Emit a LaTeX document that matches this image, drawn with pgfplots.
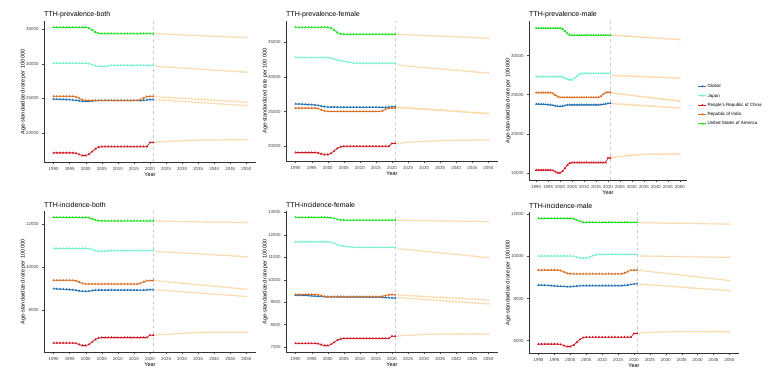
\documentclass[border=0pt]{standalone}
\usepackage{fontspec}
\setmainfont{Liberation Sans}
\usepackage{pgfplots}
\usepackage{pgfplotstable}
\pgfplotsset{compat=1.18}
\definecolor{cG}{RGB}{33,113,181}
\definecolor{cJ}{RGB}{120,240,210}
\definecolor{cC}{RGB}{210,25,35}
\definecolor{cI}{RGB}{220,110,35}
\definecolor{cU}{RGB}{30,225,30}
\definecolor{cP}{RGB}{252,212,160}

% prevalence both
\pgfplotstableread{
yr G J C I U
1990 24900 30100 17100 25300 35300
1991 24880 30100 17100 25300 35300
1992 24860 30100 17100 25300 35300
1993 24840 30100 17100 25300 35300
1994 24820 30100 17100 25300 35300
1995 24800 30100 17100 25300 35300
1996 24770 30100 17100 25300 35300
1997 24720 30100 17040 25210 35300
1998 24650 30100 16860 25000 35300
1999 24580 30100 16700 24790 35300
2000 24550 30100 16700 24700 35300
2001 24570 30050 16895 24700 35210
2002 24630 29900 17285 24700 34940
2003 24680 29750 17675 24700 34625
2004 24700 29650 17935 24700 34445
2005 24700 29620 18000 24700 34400
2006 24700 29650 18000 24700 34400
2007 24700 29720 18000 24700 34400
2008 24700 29780 18000 24700 34400
2009 24700 29800 18000 24700 34400
2010 24700 29800 18000 24700 34400
2011 24700 29800 18000 24700 34400
2012 24700 29800 18000 24700 34400
2013 24700 29800 18000 24700 34400
2014 24700 29800 18000 24700 34400
2015 24700 29800 18000 24700 34400
2016 24700 29800 18000 24700 34400
2017 24690 29800 18000 24820 34400
2018 24720 29800 18000 25060 34400
2019 24780 29800 18000 25270 34400
2020 24820 29800 18600 25300 34400
2021 24830 29800 18600 25300 34400
2022 24800 29650 18650 25250 34380
2023 24770 29620 18690 25222 34360
2024 24740 29590 18720 25194 34340
2025 24710 29560 18750 25166 34320
2026 24680 29530 18770 25138 34300
2027 24650 29500 18790 25110 34280
2028 24620 29470 18810 25082 34260
2029 24590 29440 18830 25054 34240
2030 24560 29410 18850 25026 34220
2031 24530 29380 18870 24998 34200
2032 24500 29350 18880 24970 34180
2033 24470 29320 18900 24942 34160
2034 24440 29290 18910 24914 34140
2035 24410 29260 18930 24886 34120
2036 24380 29230 18940 24858 34100
2037 24350 29200 18950 24830 34080
2038 24320 29170 18960 24802 34060
2039 24290 29140 18970 24774 34040
2040 24260 29110 18980 24746 34020
2041 24230 29080 18985 24718 34000
2042 24200 29050 18990 24690 33980
2043 24170 29020 18995 24662 33960
2044 24140 28990 19000 24634 33940
2045 24110 28960 19000 24606 33920
2046 24080 28930 19000 24578 33900
2047 24050 28900 19000 24550 33880
2048 24020 28870 19000 24522 33860
2049 23990 28840 19000 24494 33840
2050 23960 28810 19000 24466 33820
}\tA

% prevalence female
\pgfplotstableread{
yr G J C I U
1990 26100 32750 19100 25500 37100
1991 26080 32750 19100 25500 37100
1992 26060 32750 19100 25500 37100
1993 26030 32750 19100 25500 37100
1994 26000 32750 19100 25500 37100
1995 25980 32750 19100 25500 37100
1996 25950 32750 19100 25500 37100
1997 25880 32750 19055 25425 37100
1998 25780 32750 18920 25250 37100
1999 25700 32750 18800 25075 37100
2000 25650 32750 18800 25000 37100
2001 25640 32700 18980 25000 37000
2002 25640 32550 19340 25000 36700
2003 25640 32380 19700 25000 36350
2004 25630 32280 19940 25000 36150
2005 25620 32230 20000 25000 36100
2006 25620 32150 20000 25000 36100
2007 25620 32050 20000 25000 36100
2008 25620 31980 20000 25000 36100
2009 25620 31950 20000 25000 36100
2010 25620 31930 20000 25000 36100
2011 25620 31930 20000 25000 36100
2012 25620 31930 20000 25000 36100
2013 25620 31930 20000 25000 36100
2014 25620 31930 20000 25000 36100
2015 25620 31930 20000 25000 36100
2016 25600 31930 20000 25000 36100
2017 25580 31930 20000 25100 36100
2018 25600 31930 20000 25300 36100
2019 25640 31930 20000 25475 36100
2020 25690 31930 20400 25500 36100
2021 25700 31930 20400 25500 36100
2022 25650 31650 20450 25550 36080
2023 25616 31610 20490 25520 36061
2024 25582 31570 20530 25490 36042
2025 25548 31530 20570 25460 36023
2026 25514 31490 20600 25430 36004
2027 25480 31450 20630 25400 35985
2028 25446 31410 20660 25370 35966
2029 25412 31370 20690 25340 35947
2030 25378 31330 20710 25310 35928
2031 25344 31290 20730 25280 35909
2032 25310 31250 20750 25250 35890
2033 25276 31210 20770 25220 35871
2034 25242 31170 20790 25190 35852
2035 25208 31130 20800 25160 35833
2036 25174 31090 20815 25130 35814
2037 25140 31050 20830 25100 35795
2038 25106 31010 20840 25070 35776
2039 25072 30970 20850 25040 35757
2040 25038 30930 20860 25010 35738
2041 25004 30890 20870 24980 35719
2042 24970 30850 20875 24950 35700
2043 24936 30810 20880 24920 35681
2044 24902 30770 20885 24890 35662
2045 24868 30730 20890 24860 35643
2046 24834 30690 20895 24830 35624
2047 24800 30650 20900 24800 35605
2048 24766 30610 20900 24770 35586
2049 24732 30570 20900 24740 35567
2050 24698 30530 20900 24710 35548
}\tB

% prevalence male
\pgfplotstableread{
yr G J C I U
1990 23800 27300 15350 25250 33500
1991 23790 27300 15350 25250 33500
1992 23780 27300 15350 25250 33500
1993 23760 27300 15350 25250 33500
1994 23740 27300 15350 25250 33500
1995 23720 27300 15350 25250 33500
1996 23690 27300 15350 25250 33500
1997 23640 27300 15300 25160 33500
1998 23570 27300 15140 24950 33500
1999 23520 27300 15000 24740 33500
2000 23500 27300 15000 24650 33500
2001 23530 27250 15195 24650 33410
2002 23610 27120 15585 24650 33140
2003 23680 26980 15975 24650 32825
2004 23700 26900 16235 24650 32645
2005 23700 26900 16300 24650 32600
2006 23700 27080 16300 24650 32600
2007 23700 27350 16300 24650 32600
2008 23700 27600 16300 24650 32600
2009 23700 27700 16300 24650 32600
2010 23700 27720 16300 24650 32600
2011 23700 27720 16300 24650 32600
2012 23700 27720 16300 24650 32600
2013 23700 27720 16300 24650 32600
2014 23700 27720 16300 24650 32600
2015 23700 27720 16300 24650 32600
2016 23700 27720 16300 24650 32600
2017 23720 27720 16300 24780 32600
2018 23760 27720 16300 25040 32600
2019 23810 27720 16300 25270 32600
2020 23870 27720 16900 25300 32600
2021 23900 27720 16900 25300 32600
2022 23850 27450 16950 25200 32600
2023 23830 27438 17000 25163 32580
2024 23810 27426 17050 25126 32560
2025 23790 27414 17090 25089 32540
2026 23770 27402 17130 25052 32520
2027 23750 27390 17160 25015 32500
2028 23730 27378 17190 24978 32480
2029 23710 27366 17220 24941 32460
2030 23690 27354 17250 24904 32440
2031 23670 27342 17270 24867 32420
2032 23650 27330 17290 24830 32400
2033 23630 27318 17310 24793 32380
2034 23610 27306 17330 24756 32360
2035 23590 27294 17340 24719 32340
2036 23570 27282 17350 24682 32320
2037 23550 27270 17360 24645 32300
2038 23530 27258 17370 24608 32280
2039 23510 27246 17375 24571 32260
2040 23490 27234 17380 24534 32240
2041 23470 27222 17385 24497 32220
2042 23450 27210 17390 24460 32200
2043 23430 27198 17395 24423 32180
2044 23410 27186 17400 24386 32160
2045 23390 27174 17400 24349 32140
2046 23370 27162 17400 24312 32120
2047 23350 27150 17400 24275 32100
2048 23330 27138 17400 24238 32080
2049 23310 27126 17400 24201 32060
2050 23290 27114 17400 24164 32040
}\tC

% incidence both
\pgfplotstableread{
yr G J C I U
1990 9000 10860 6500 9390 12290
1991 8995 10860 6500 9390 12290
1992 8990 10860 6500 9390 12290
1993 8980 10860 6500 9390 12290
1994 8970 10860 6500 9390 12290
1995 8960 10860 6500 9390 12290
1996 8950 10860 6500 9390 12290
1997 8930 10860 6482 9365 12290
1998 8905 10860 6428 9305 12290
1999 8885 10860 6380 9245 12290
2000 8880 10860 6380 9220 12290
2001 8890 10850 6435 9220 12274
2002 8915 10810 6547 9220 12226
2003 8935 10760 6658 9220 12170
2004 8940 10735 6732 9220 12138
2005 8940 10730 6750 9220 12130
2006 8940 10740 6750 9220 12130
2007 8940 10750 6750 9220 12130
2008 8940 10760 6750 9220 12130
2009 8940 10760 6750 9220 12130
2010 8940 10760 6750 9220 12130
2011 8940 10760 6750 9220 12130
2012 8940 10760 6750 9220 12130
2013 8940 10760 6750 9220 12130
2014 8940 10760 6750 9220 12130
2015 8940 10760 6750 9220 12130
2016 8940 10760 6750 9220 12130
2017 8935 10760 6750 9250 12130
2018 8940 10760 6750 9320 12130
2019 8950 10760 6750 9370 12130
2020 8960 10760 6860 9380 12130
2021 8960 10760 6860 9380 12130
2022 8950 10720 6870 9370 12120
2023 8939 10711.5 6880 9356 12117.5
2024 8928 10703 6890 9342 12115
2025 8917 10694.5 6900 9328 12112.5
2026 8906 10686 6910 9314 12110
2027 8895 10677.5 6920 9300 12107.5
2028 8884 10669 6928 9286 12105
2029 8873 10660.5 6936 9272 12102.5
2030 8862 10652 6944 9258 12100
2031 8851 10643.5 6952 9244 12097.5
2032 8840 10635 6958 9230 12095
2033 8829 10626.5 6964 9216 12092.5
2034 8818 10618 6970 9202 12090
2035 8807 10609.5 6975 9188 12087.5
2036 8796 10601 6980 9174 12085
2037 8785 10592.5 6984 9160 12082.5
2038 8774 10584 6987 9146 12080
2039 8763 10575.5 6990 9132 12077.5
2040 8752 10567 6992 9118 12075
2041 8741 10558.5 6994 9104 12072.5
2042 8730 10550 6995 9090 12070
2043 8719 10541.5 6995 9076 12067.5
2044 8708 10533 6995 9062 12065
2045 8697 10524.5 6994 9048 12062.5
2046 8686 10516 6993 9034 12060
2047 8675 10507.5 6992 9020 12057.5
2048 8664 10499 6991 9006 12055
2049 8653 10490.5 6990 8992 12052.5
2050 8642 10482 6990 8978 12050
}\tD

% incidence female
\pgfplotstableread{
yr G J C I U
1990 9310 11690 7160 9340 12780
1991 9305 11690 7160 9340 12780
1992 9300 11690 7160 9340 12780
1993 9295 11690 7160 9340 12780
1994 9290 11690 7160 9340 12780
1995 9280 11690 7160 9340 12780
1996 9270 11690 7160 9340 12780
1997 9260 11690 7145 9325 12780
1998 9250 11690 7100 9290 12780
1999 9240 11690 7060 9255 12780
2000 9235 11690 7060 9240 12780
2001 9235 11670 7108 9240 12768
2002 9235 11620 7204 9240 12732
2003 9235 11560 7300 9240 12690
2004 9235 11520 7364 9240 12666
2005 9230 11500 7380 9240 12660
2006 9230 11480 7380 9240 12660
2007 9230 11460 7380 9240 12660
2008 9230 11450 7380 9240 12660
2009 9230 11440 7380 9240 12660
2010 9230 11440 7380 9240 12660
2011 9225 11440 7380 9240 12660
2012 9225 11440 7380 9240 12660
2013 9225 11440 7380 9240 12660
2014 9225 11440 7380 9240 12660
2015 9225 11440 7380 9240 12660
2016 9225 11440 7380 9240 12660
2017 9215 11440 7380 9258 12660
2018 9205 11440 7380 9295 12660
2019 9195 11440 7380 9325 12660
2020 9185 11440 7480 9330 12660
2021 9180 11440 7480 9330 12660
2022 9200 11380 7490 9320 12650
2023 9190 11366 7500 9312 12648
2024 9180 11352 7510 9304 12646
2025 9170 11338 7520 9296 12644
2026 9160 11324 7528 9288 12642
2027 9150 11310 7536 9280 12640
2028 9140 11296 7543 9272 12638
2029 9130 11282 7550 9264 12636
2030 9120 11268 7556 9256 12634
2031 9110 11254 7561 9248 12632
2032 9100 11240 7565 9240 12630
2033 9090 11226 7569 9232 12628
2034 9080 11212 7572 9224 12626
2035 9070 11198 7575 9216 12624
2036 9060 11184 7577 9208 12622
2037 9050 11170 7579 9200 12620
2038 9040 11156 7580 9192 12618
2039 9030 11142 7581 9184 12616
2040 9020 11128 7582 9176 12614
2041 9010 11114 7582 9168 12612
2042 9000 11100 7582 9160 12610
2043 8990 11086 7582 9152 12608
2044 8980 11072 7581 9144 12606
2045 8970 11058 7581 9136 12604
2046 8960 11044 7580 9128 12602
2047 8950 11030 7580 9120 12600
2048 8940 11016 7580 9112 12598
2049 8930 11002 7580 9104 12596
2050 8920 10988 7580 9096 12594
}\tE

% incidence male
\pgfplotstableread{
yr G J C I U
1990 8640 10020 5840 9350 11800
1991 8635 10020 5840 9350 11800
1992 8630 10020 5840 9350 11800
1993 8620 10020 5840 9350 11800
1994 8610 10020 5840 9350 11800
1995 8600 10020 5840 9350 11800
1996 8590 10020 5840 9350 11800
1997 8580 10020 5822 9323 11800
1998 8570 10020 5768 9260 11800
1999 8560 10020 5720 9197 11800
2000 8560 10020 5720 9170 11800
2001 8570 10000 5788 9170 11781
2002 8590 9960 5922 9170 11724
2003 8605 9930 6058 9170 11658
2004 8610 9920 6148 9170 11620
2005 8610 9920 6170 9170 11610
2006 8610 9960 6170 9170 11610
2007 8610 10030 6170 9170 11610
2008 8610 10070 6170 9170 11610
2009 8610 10090 6170 9170 11610
2010 8610 10090 6170 9170 11610
2011 8610 10090 6170 9170 11610
2012 8610 10090 6170 9170 11610
2013 8610 10090 6170 9170 11610
2014 8610 10090 6170 9170 11610
2015 8610 10090 6170 9170 11610
2016 8610 10090 6170 9170 11610
2017 8620 10090 6170 9206 11610
2018 8640 10090 6170 9278 11610
2019 8665 10090 6170 9341 11610
2020 8690 10090 6340 9350 11610
2021 8700 10090 6340 9350 11610
2022 8680 10020 6370 9330 11600
2023 8669 10017.5 6378 9313 11597.5
2024 8658 10015 6386 9296 11595
2025 8647 10012.5 6393 9279 11592.5
2026 8636 10010 6400 9262 11590
2027 8625 10007.5 6406 9245 11587.5
2028 8614 10005 6411 9228 11585
2029 8603 10002.5 6416 9211 11582.5
2030 8592 10000 6420 9194 11580
2031 8581 9997.5 6423 9177 11577.5
2032 8570 9995 6426 9160 11575
2033 8559 9992.5 6428 9143 11572.5
2034 8548 9990 6430 9126 11570
2035 8537 9987.5 6431 9109 11567.5
2036 8526 9985 6432 9092 11565
2037 8515 9982.5 6432 9075 11562.5
2038 8504 9980 6432 9058 11560
2039 8493 9977.5 6432 9041 11557.5
2040 8482 9975 6432 9024 11555
2041 8471 9972.5 6431 9007 11552.5
2042 8460 9970 6431 8990 11550
2043 8449 9967.5 6430 8973 11547.5
2044 8438 9965 6430 8956 11545
2045 8427 9962.5 6430 8939 11542.5
2046 8416 9960 6430 8922 11540
2047 8405 9957.5 6430 8905 11537.5
2048 8394 9955 6430 8888 11535
2049 8383 9952.5 6430 8871 11532.5
2050 8372 9950 6430 8854 11530
}\tF

\pgfplotsset{
  panel/.style={
    scale only axis, width=212pt, height=141pt,
    xmin=1987, xmax=2053, xtick={1990,1995,...,2050},
    axis x line*=bottom, axis y line*=left,
    axis line style={black!80, line width=0.5pt},
    tick style={black!70, line width=0.4pt},
    tick align=outside, major tick length=2pt,
    tick label style={font=\fontsize{4.4}{5}\selectfont, text=black!75},
    /pgf/number format/1000 sep={},
    /pgf/number format/assume math mode=true,
    scaled y ticks=false, scaled x ticks=false,
    xlabel={Year}, ylabel={Age-standardized rate per 100 000},
    xlabel style={font=\fontsize{5.5}{6}\selectfont, inner sep=1pt, yshift=2pt},
    ylabel style={font=\fontsize{5.5}{6}\selectfont, inner sep=1pt, yshift=-4pt},
    every axis title/.style={font=\fontsize{7}{8}\selectfont, at={(0,1)}, anchor=south west, inner sep=0pt, yshift=3pt},
    legend image code/.code={\draw[mark repeat=2,mark phase=2,##1] plot coordinates {(0pt,0pt) (4pt,0pt) (8pt,0pt)};},
  },
  hist/.style={line width=0.7pt, mark=triangle*, mark size=0.75pt, mark options={solid}, restrict x to domain=1990:2021},
  proj/.style={cP, line width=0.5pt, mark=triangle*, mark size=0.75pt, mark options={solid}, restrict x to domain=2022:2050, forget plot},
}

\newcommand{\drawpanel}[3]{%
  \addplot[gray!40, dashed, line width=0.4pt, forget plot] coordinates {(2021,#2) (2021,#3)};
  \addplot[proj] table[x=yr,y=G]{#1};
  \addplot[proj] table[x=yr,y=J]{#1};
  \addplot[proj] table[x=yr,y=C]{#1};
  \addplot[proj] table[x=yr,y=I]{#1};
  \addplot[proj] table[x=yr,y=U]{#1};
  \addplot[hist, cG] table[x=yr,y=G]{#1};
  \addplot[hist, cJ] table[x=yr,y=J]{#1};
  \addplot[hist, cC] table[x=yr,y=C]{#1};
  \addplot[hist, cI] table[x=yr,y=I]{#1};
  \addplot[hist, cU] table[x=yr,y=U]{#1};
}

\begin{document}
\begin{tikzpicture}
\path[use as bounding box] (0,0) rectangle (776pt,373pt);

\begin{axis}[panel, at={(44pt,211pt)}, anchor=south west,
  ymin=15770, ymax=36230, ytick={20000,25000,30000,35000},
  title={TTH-prevalence-both}]
\drawpanel{\tA}{15770}{36230}
\end{axis}

\begin{axis}[panel, at={(286pt,212pt)}, anchor=south west, height=140pt,
  ymin=17885, ymax=38015, ytick={20000,25000,30000,35000},
  title={TTH-prevalence-female}]
\drawpanel{\tB}{17885}{38015}
\end{axis}

\begin{axis}[panel, at={(529pt,193pt)}, anchor=south west, width=158pt, height=159pt,
  ymin=14075, ymax=34425, ytick={15000,20000,25000,30000},
  title={TTH-prevalence-male},
  legend style={at={(rel axis cs:1.05,0.62)}, anchor=north west, draw=none, fill=none,
    font=\fontsize{4.5}{5}\selectfont, row sep=3.5pt,
    nodes={inner sep=0.8pt, text height=3.3pt, text depth=0.9pt}},
  legend cell align=left]
\drawpanel{\tC}{14075}{34425}
\legend{Global, Japan, People's Republic of China, Republic of India, United States of America}
\node[anchor=west, font=\fontsize{5.7}{6}\selectfont, inner sep=0pt] at (rel axis cs:1.045,0.655) {Location};
\end{axis}

\begin{axis}[panel, at={(44pt,21pt)}, anchor=south west,
  ymin=6084, ymax=12586, ytick={8000,10000,12000},
  title={TTH-incidence-both}]
\drawpanel{\tD}{6084}{12586}
\end{axis}

\begin{axis}[panel, at={(286pt,21pt)}, anchor=south west,
  ymin=6774, ymax=13066, ytick={7000,8000,...,13000},
  title={TTH-incidence-female}]
\drawpanel{\tE}{6774}{13066}
\end{axis}

\begin{axis}[panel, at={(529pt,20pt)}, anchor=south west, width=210pt,
  ymin=5416, ymax=12104, ytick={6000,8000,10000,12000},
  title={TTH-incidence-male}]
\drawpanel{\tF}{5416}{12104}
\end{axis}

\end{tikzpicture}
\end{document}
